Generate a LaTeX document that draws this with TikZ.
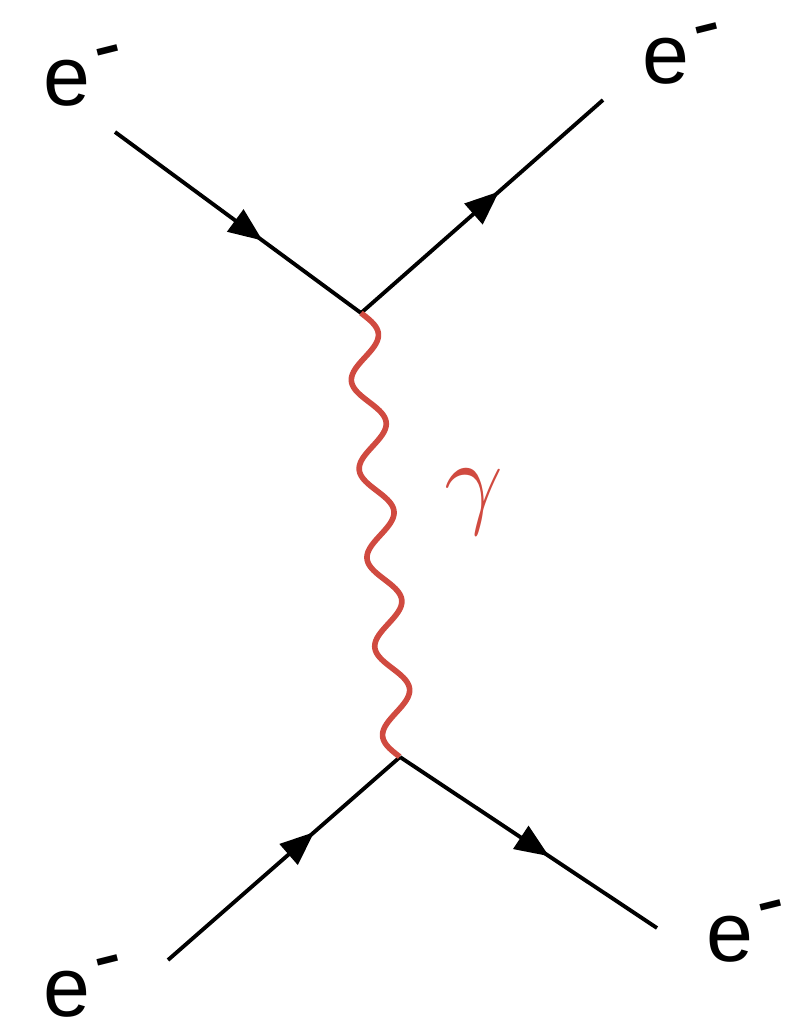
\documentclass[tikz,border=0pt]{standalone}
\usepackage{fontspec}
\setmainfont{Liberation Sans}
\usetikzlibrary{arrows.meta,decorations.markings,calc}
\definecolor{photonred}{RGB}{208,74,64}
\newcommand{\elec}{e\kern.04em\raisebox{.36em}{\rotatebox{14}{-}}}

\begin{document}
\begin{tikzpicture}[x=0.02cm,y=-0.02cm,>={Triangle[length=0.68cm,width=0.54cm]},
 fermion/.style={line width=2.2pt,postaction={decorate},decoration={markings,mark=at position #1 with {\arrow{>}}}},
 fermion/.default=0.57,
 photon/.style={photonred,line width=3.2pt,line join=round},
 lbl/.style={inner sep=0pt,anchor=base west,font=\fontsize{48}{48}\selectfont}]
\useasboundingbox (0,0) rectangle (795,1024);
\coordinate (v1) at (361,313); \coordinate (v2) at (400,757); \coordinate (v3) at ($(v1)!2!(v2)$);
\coordinate (a) at (115,132); \coordinate (b) at (603,100); \coordinate (c) at (168,960); \coordinate (d) at (657,928);
\node[lbl] (la) at (43,106) {\elec}; \node[lbl] (lb) at (642,84) {\elec};
\node[lbl] (lc) at (43,1016) {\elec}; \node[lbl] (ld) at (706,961) {\elec};
\draw[fermion=0.6] (a) -- (v1); \draw[fermion=0.57] (v1) -- (b);
\draw[fermion=0.63] (c) -- (v2); \draw[fermion=0.58] (v2) -- (d);
% photon: ten half waves from v1 to v2
\draw[photon] plot[domain=0:1,samples=240,smooth] ({$(v1)!\x!(v2)!{0.31cm*sin(1800*\x)}!90:(v3)$});
\node[photonred,font=\fontsize{44}{44}\selectfont] (g) at (474,502) {\scalebox{2.4}{$\gamma$}};
\end{tikzpicture}
\end{document}
